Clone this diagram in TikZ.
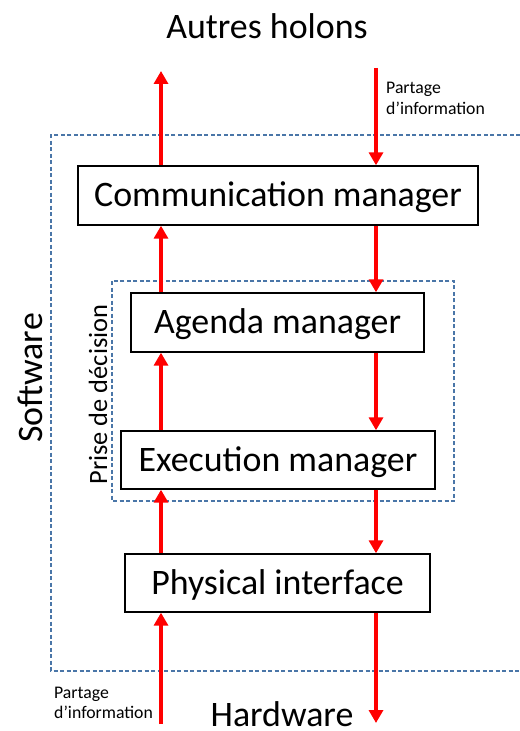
\documentclass[tikz,border=0pt]{standalone}
\usepackage{fontspec}
\setmainfont{Carlito}
\usetikzlibrary{arrows.meta}
\definecolor{dashblue}{RGB}{74,118,168}
\tikzset{
  x=1bp, y=-1bp,
  mgr/.style={draw=black, line width=1.4bp, fill=white, inner sep=0pt,
    text height=30bp, text depth=8bp, font=\fontsize{36}{41}\selectfont},
  frame/.style={draw=dashblue, line width=1.3bp, dash pattern=on 4bp off 2.5bp},
  arr/.style={draw=red, line width=3.5bp, -{Triangle[width=14bp,length=13bp]}},
  big/.style={font=\fontsize{36}{41}\selectfont, inner sep=0pt},
  small/.style={font=\fontsize{17.8}{21}\selectfont, inner sep=0pt, align=left},
}
\begin{document}
\begin{tikzpicture}
\useasboundingbox (0,0) rectangle (520,731);
% frames
\draw[frame] (520,135) -- (51,135) -- (51,671) -- (520,671);
\draw[frame] (112,281) rectangle (454,501);
% columns
\coordinate (L) at (161,0);
\coordinate (R) at (376,0);
% boxes
\node[mgr, minimum width=400bp, minimum height=59bp] (comm) at (278,195.5) {Communication manager};
\node[mgr, minimum width=293bp, minimum height=59bp] (agenda) at (277.5,322.5) {Agenda manager};
\node[mgr, minimum width=314bp, minimum height=58bp] (exec) at (278,460) {Execution manager};
\node[mgr, minimum width=305bp, minimum height=58bp] (phys) at (277.5,583) {Physical interface};
% free ends
\coordinate (outTop) at (161,71);
\coordinate (inTop) at (376,68);
\coordinate (inBot) at (161,724);
\coordinate (outBot) at (376,723);
% arrows
\draw[arr] (comm.north -| L) -- (outTop);
\draw[arr] (inTop) -- (comm.north -| R);
\draw[arr] (agenda.north -| L) -- (comm.south -| L);
\draw[arr] (comm.south -| R) -- (agenda.north -| R);
\draw[arr] (exec.north -| L) -- (agenda.south -| L);
\draw[arr] (agenda.south -| R) -- (exec.north -| R);
\draw[arr] (phys.north -| L) -- (exec.south -| L);
\draw[arr] (exec.south -| R) -- (phys.north -| R);
\draw[arr] (inBot) -- (phys.south -| L);
\draw[arr] (phys.south -| R) -- (outBot);
% labels
\node[big, anchor=base] (autres) at (267,39) {Autres holons};
\node[big, anchor=base] (hard) at (282,726) {Hardware};
\node[big, anchor=base, rotate=90] (soft) at (42,378) {Software};
\node[font=\fontsize{26.5}{30}\selectfont, inner sep=0pt, anchor=base, rotate=90] (prise) at (107,394.5) {Prise de décision};
\node[small, anchor=base west] (p1) at (386,94) {Partage};
\node[small, anchor=base west] (p2) at (386,115) {d’information};
\node[small, anchor=base west] (p3) at (54,698) {Partage};
\node[small, anchor=base west] (p4) at (54,718) {d’information};
\end{tikzpicture}
\end{document}
